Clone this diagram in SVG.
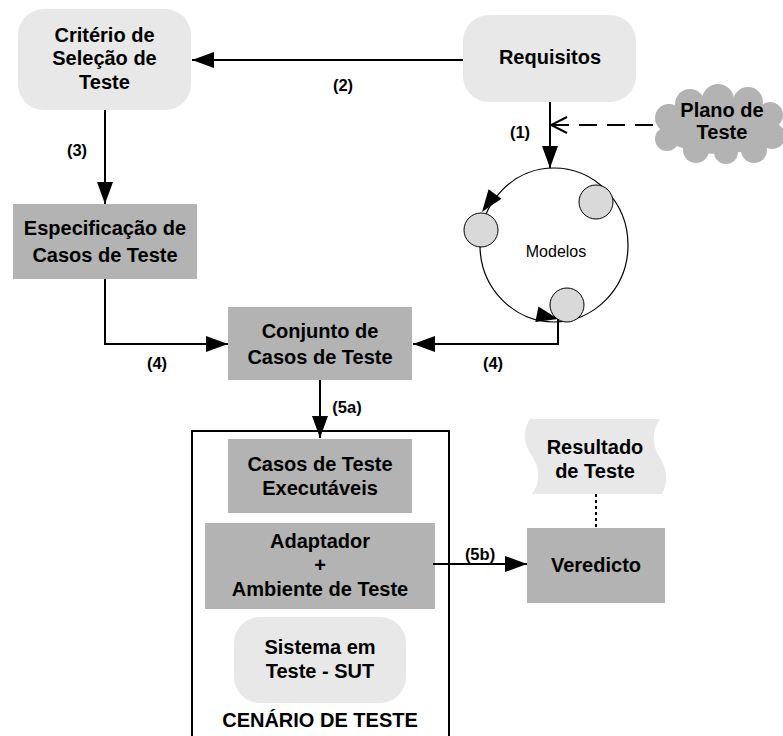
<svg xmlns="http://www.w3.org/2000/svg" width="783" height="736" viewBox="0 0 783 736">
<style>
.t{font-family:"Liberation Sans",Arial,sans-serif;font-weight:bold;font-size:20px;fill:#000;text-anchor:middle}
.lbl{font-family:"Liberation Sans",Arial,sans-serif;font-weight:bold;font-size:16.5px;fill:#000;text-anchor:middle}
.light{fill:#e8e8e8;stroke:none}
.dark{fill:#b3b3b3;stroke:none}
.c{fill:none;stroke:#000;stroke-width:2}
.small{fill:#d9d9d9;stroke:#000;stroke-width:1}
</style>
<defs>
<marker id="arr" viewBox="0 0 22 16" refX="22" refY="8" markerWidth="22" markerHeight="16" orient="auto" markerUnits="userSpaceOnUse"><path d="M0,0 L22,8 L0,16 z" fill="#000"/></marker>
<marker id="open" viewBox="0 0 18 18" refX="17" refY="9" markerWidth="18" markerHeight="18" orient="auto" markerUnits="userSpaceOnUse"><path d="M1,1 L17,9 L1,17" fill="none" stroke="#000" stroke-width="2"/></marker>
</defs>
<rect width="783" height="736" fill="#fff"/>

<g id="criterio">
<rect class="light" x="18" y="9" width="173" height="101" rx="26"/>
<text class="t" x="104.5" y="42">Critério de</text>
<text class="t" x="104.5" y="65">Seleção de</text>
<text class="t" x="104.5" y="89">Teste</text>
</g>

<g id="requisitos">
<rect class="light" x="463" y="15" width="173" height="87" rx="26"/>
<text class="t" x="550" y="64">Requisitos</text>
</g>

<g id="plano">
<g fill="#b3b3b3">
<ellipse cx="718" cy="127" rx="58" ry="27"/>
<circle cx="669" cy="118" r="14"/>
<circle cx="667" cy="139" r="12"/>
<circle cx="690" cy="104" r="15"/>
<circle cx="718" cy="100" r="16"/>
<circle cx="748" cy="102" r="15"/>
<circle cx="770" cy="115" r="13"/>
<circle cx="772" cy="136" r="13"/>
<circle cx="754" cy="150" r="13"/>
<circle cx="726" cy="152" r="12"/>
<circle cx="696" cy="150" r="13"/>
</g>
<text class="t" x="722" y="117">Plano de</text>
<text class="t" x="722" y="139">Teste</text>
</g>

<g id="modelos">
<ellipse cx="554" cy="245" rx="74" ry="77" fill="#fff" stroke="#000" stroke-width="1.2"/>
<circle class="small" cx="481" cy="230" r="17"/>
<circle class="small" cx="596" cy="202" r="17"/>
<circle class="small" cx="567" cy="305" r="17"/>
<text x="556" y="257" font-family="'Liberation Sans',Arial,sans-serif" font-size="16" text-anchor="middle">Modelos</text>
<path d="M482,212 L501.4,198.8 L488.6,189.2 z" fill="#000"/>
<path d="M558,319 L538.5,306.5 L535.3,322.1 z" fill="#000"/>
</g>

<g id="especificacao">
<rect class="dark" x="13" y="204" width="184" height="75"/>
<text class="t" x="105" y="235">Especificação de</text>
<text class="t" x="105" y="262">Casos de Teste</text>
</g>

<g id="conjunto">
<rect class="dark" x="228" y="307" width="184" height="73"/>
<text class="t" x="320" y="338">Conjunto de</text>
<text class="t" x="320" y="364">Casos de Teste</text>
</g>

<g id="cenario">
<rect x="192" y="431" width="257" height="330" fill="none" stroke="#000" stroke-width="2"/>
<text class="t" x="320" y="727">CENÁRIO DE TESTE</text>
</g>

<g id="executaveis">
<rect class="dark" x="228" y="439" width="184" height="74"/>
<text class="t" x="320" y="471">Casos de Teste</text>
<text class="t" x="320" y="495">Executáveis</text>
</g>

<g id="adaptador">
<rect class="dark" x="205" y="523" width="230" height="86"/>
<text class="t" x="320" y="548">Adaptador</text>
<text class="t" x="320" y="572">+</text>
<text class="t" x="320" y="596">Ambiente de Teste</text>
</g>

<g id="sut">
<rect class="light" x="234" y="617" width="172" height="86" rx="26"/>
<text class="t" x="320" y="654">Sistema em</text>
<text class="t" x="320" y="678">Teste - SUT</text>
</g>

<g id="resultado">
<path class="light" d="M530,419 L660,419 C651,432 652,445 660,458 C668,471 668,483 662,494 L532,494 C541,482 540,468 532,456 C523,443 523,430 530,419 Z"/>
<text class="t" x="595" y="454">Resultado</text>
<text class="t" x="595" y="478">de Teste</text>
</g>

<g id="veredicto">
<rect class="dark" x="527" y="528" width="138" height="75"/>
<text class="t" x="596" y="572">Veredicto</text>
</g>

<g id="connectors">
<path class="c" d="M463,60 H192" marker-end="url(#arr)"/>
<path class="c" d="M105,110 V204" marker-end="url(#arr)"/>
<path class="c" d="M550,102 V168" marker-end="url(#arr)"/>
<path class="c" d="M653,125 H551" stroke-dasharray="18,10" marker-end="url(#open)"/>
<path class="c" d="M105,279 V344 H228" marker-end="url(#arr)"/>
<path class="c" d="M558,319 V344 H413" marker-end="url(#arr)"/>
<path class="c" d="M320,380 V438" marker-end="url(#arr)"/>
<path class="c" d="M433,564 H527" marker-end="url(#arr)"/>
<path class="c" d="M596,494 V528" stroke-dasharray="3,3"/>
<text class="lbl" x="343" y="91">(2)</text>
<text class="lbl" x="520" y="138">(1)</text>
<text class="lbl" x="77" y="156">(3)</text>
<text class="lbl" x="157" y="369">(4)</text>
<text class="lbl" x="493" y="369">(4)</text>
<text class="lbl" x="347" y="413">(5a)</text>
<text class="lbl" x="480" y="560">(5b)</text>
</g>
</svg>
